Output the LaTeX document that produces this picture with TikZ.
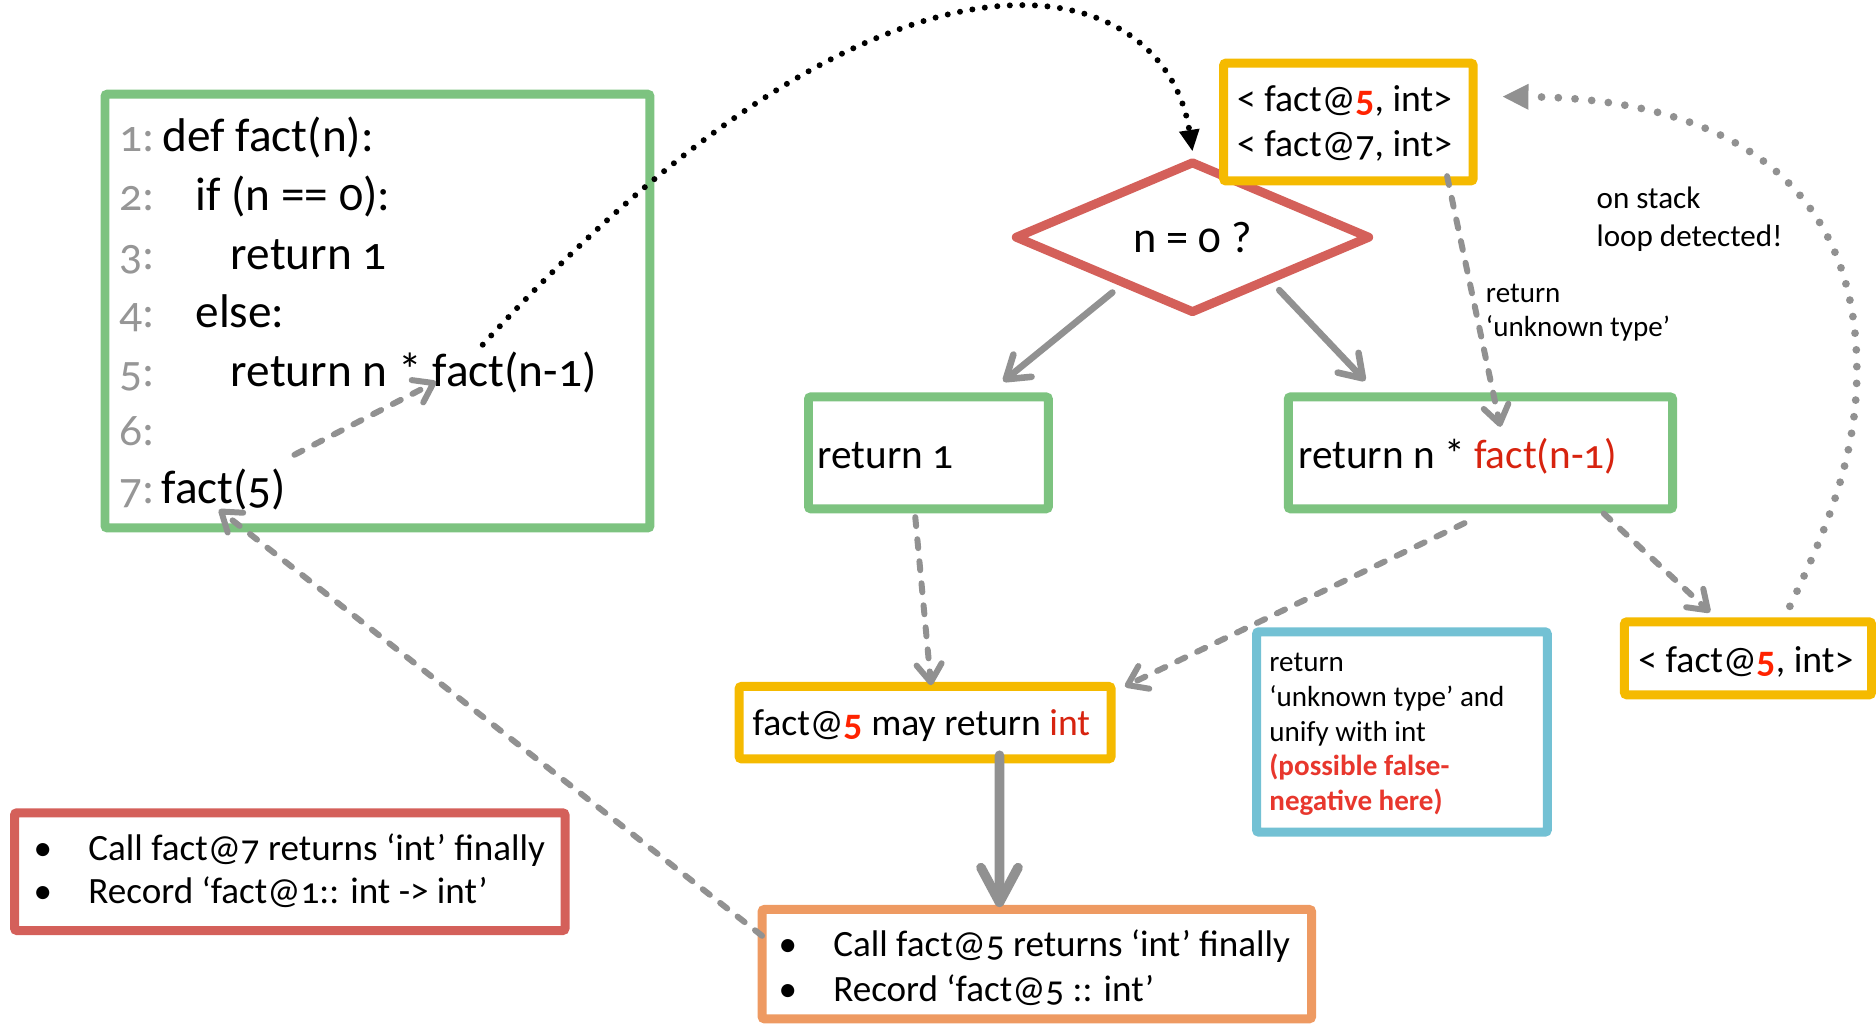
\documentclass[tikz,border=0pt]{standalone}
\usepackage{fontspec}
\setmainfont{Carlito}[Numbers=OldStyle]
\usetikzlibrary{arrows.meta,shapes.geometric,calc}

\definecolor{boxgreen}{RGB}{125,195,128}
\definecolor{boxred}{RGB}{212,96,90}
\definecolor{boxyellow}{RGB}{245,186,0}
\definecolor{boxblue}{RGB}{115,193,212}
\definecolor{boxorange}{RGB}{238,154,98}
\definecolor{linegray}{RGB}{145,145,145}
\definecolor{numgray}{RGB}{150,150,150}
\definecolor{hotred}{RGB}{255,35,0}
\definecolor{textred}{RGB}{215,35,15}
\definecolor{notered}{RGB}{232,55,45}

\tikzset{
  frame/.style={draw, line width=7.5pt, rounded corners=2pt, inner sep=0pt, outer sep=0pt, fill=white},
  txt/.style={inner sep=0pt, outer sep=0pt, anchor=base west},
  codefont/.style={font=\fontsize{39.5}{40}\selectfont},
  numfont/.style={font=\fontsize{38}{40}\selectfont, text=numgray},
  boxfont/.style={font=\fontsize{34.5}{36}\selectfont},
  midfont/.style={font=\fontsize{31.5}{33}\selectfont},
  listfont/.style={font=\fontsize{31}{33}\selectfont},
  smallfont/.style={font=\fontsize{24.3}{26}\selectfont},
  dashedge/.style={draw=linegray, line width=5pt, line cap=round,
    dash pattern=on 7.5pt off 11pt,
    -{Straight Barb[length=15pt,width=21pt,round]}},
  solidedge/.style={draw=linegray, line width=5.5pt, line cap=round,
    -{Straight Barb[length=18pt,width=24pt,round]}},
  thickedge/.style={draw=linegray, line width=8pt, line cap=round,
    -{Straight Barb[length=29pt,width=31pt,round]}},
  blackdots/.style={draw=black, line width=5pt, line cap=round,
    dash pattern=on 0pt off 10.5pt,
    -{Triangle[length=18pt,width=16pt]}},
  graydots/.style={draw=linegray, line width=6.5pt, line cap=round,
    dash pattern=on 0pt off 14pt,
    -{Triangle[length=22pt,width=20pt]}},
}

\begin{document}
\begin{tikzpicture}[x=1pt, y=-1pt]
\useasboundingbox (0,0) rectangle (1568,858);

% ---------- source code listing ----------
\node[frame, draw=boxgreen, minimum width=455.5pt, minimum height=362.5pt] (code) at (315.5,260) {};
\node[txt, numfont] (n1) at (100,127) {1:};
\node[txt, numfont] (n2) at (100,176) {2:};
\node[txt, numfont] (n3) at (100,225) {3:};
\node[txt, numfont] (n4) at (100,274) {4:};
\node[txt, numfont] (n5) at (100,323) {5:};
\node[txt, numfont] (n6) at (100,372) {6:};
\node[txt, numfont] (n7) at (100,421) {7:};
\node[txt, codefont] (c1) at (136,127) {def fact(n):};
\node[txt, codefont] (c2) at (163.5,176) {if (n == 0):};
\node[txt, codefont] (c3) at (193,225) {return 1};
\node[txt, codefont] (c4) at (163.5,274) {else:};
\node[txt, codefont] (c5) at (193,323) {return n *};
\node[txt, codefont] (fn) at ($(c5.base east)+(9,0)$) {fact(n-1)};
\node[txt, codefont] (c7) at (135,421) {fact(5)};

% ---------- decision and branches ----------
\node[diamond, draw=boxred, line width=7.5pt, line join=round, fill=white,
      minimum width=294.6pt, minimum height=106pt, inner sep=0pt, outer sep=0pt,
      font=\fontsize{37}{38}\selectfont] (dia) at (996.7,198.3) {n = 0 ?};

\node[frame, draw=boxyellow, minimum width=208.5pt, minimum height=98.5pt] (stk) at (1127,102) {};
\node[txt, midfont] (stk1) at (1034,93) {< fact@\textcolor{hotred}{\bfseries 5}, int>};
\node[txt, midfont] (stk2) at (1034,131) {< fact@7, int>};

\node[txt, font=\fontsize{26}{28}\selectfont] (os1) at (1334.5,174) {on stack};
\node[txt, font=\fontsize{26}{28}\selectfont] (os2) at (1334.5,206) {loop detected!};
\node[txt, smallfont] (ut1) at (1242,253) {return};
\node[txt, smallfont] (ut2) at (1242,281) {‘unknown type’};

\node[frame, draw=boxgreen, minimum width=200.5pt, minimum height=93.5pt] (ret1) at (776,378.5) {};
\node[txt, boxfont] (ret1t) at (683.4,391.5) {return 1};

\node[frame, draw=boxgreen, minimum width=321.2pt, minimum height=93.5pt] (retn) at (1237.35,378.5) {};
\node[txt, boxfont] (retnt) at (1085,391.5) {return n * \textcolor{textred}{fact(n-1)}};

\node[frame, draw=boxyellow, minimum width=310.9pt, minimum height=60.5pt] (may) at (773.2,604) {};
\node[txt, midfont] (mayt) at (629,614.4) {fact@\textcolor{hotred}{\bfseries 5} may return \textcolor{textred}{int}};

\node[frame, draw=boxblue, minimum width=243pt, minimum height=167.5pt] (note) at (1171.75,611.8) {};
\node[txt, smallfont] (note1) at (1061,561.5) {return};
\node[txt, smallfont] (note2) at (1061,590.5) {‘unknown type’ and};
\node[txt, smallfont] (note3) at (1061,619.5) {unify with int};
\node[txt, text=notered, font=\fontsize{24.3}{26}\selectfont\bfseries] (note4) at (1061,648.5) {(possible false-};
\node[txt, text=notered, font=\fontsize{24.3}{26}\selectfont\bfseries] (note5) at (1061,677.5) {negative here)};

\node[frame, draw=boxyellow, minimum width=206.5pt, minimum height=61pt] (sy) at (1461,550.25) {};
\node[txt, midfont] (syt) at (1369.4,562) {< fact@\textcolor{hotred}{\bfseries 5}, int>};

% ---------- summaries ----------
\node[frame, draw=boxred, minimum width=460.1pt, minimum height=98.4pt] (rb) at (242.2,728.55) {};
\node[txt, listfont] (rb1) at (28,719.4) {\makebox[45.9pt][l]{•}Call fact@7 returns ‘int’ finally};
\node[txt, listfont] (rb2) at (28,755.5) {\makebox[45.9pt][l]{•}Record ‘fact@1:: int -> int’};

\node[frame, draw=boxorange, minimum width=459.3pt, minimum height=91.4pt] (or) at (866.6,805.85) {};
\node[txt, listfont] (or1) at (650.8,799.6) {\makebox[45.7pt][l]{•}Call fact@5 returns ‘int’ finally};
\node[txt, listfont] (or2) at (650.8,837.2) {\makebox[45.7pt][l]{•}Record ‘fact@5 :: int’};

% ---------- connectors ----------
\draw[blackdots] ($(fn.north west)+(42,-6)$) .. controls +(348,-380) and +(-22.6,-150) .. ($(dia.north)+(0,-9.5)$);
\draw[dashedge] ($(c7.north east)+(7,-12)$) -- ($(fn.base west)+(3,-4)$);
\draw[dashedge] ($(or.north west)+(0,22)$) -- ($(c7.base west)+(48,5)$);

\draw[solidedge] ($(dia.south)+(-67,-16)$) -- ($(ret1.north)+(62.5,-13)$);
\draw[solidedge] ($(dia.south)+(72.5,-18)$) -- ($(retn.north)+(-96.3,-13.5)$);

\draw[dashedge] ($(stk.south)+(82.5,-4)$) -- ($(retn.north)+(16.7,25)$);
\draw[dashedge] ($(ret1.south)+(-11,7)$) -- ($(may.north)+(5,-1)$);
\draw[dashedge] ($(retn.south)+(-13.3,12)$) -- ($(may.north east)+(11.6,0)$);
\draw[dashedge] ($(retn.south east)+(-57.5,4)$) -- ($(sy.north)+(-31.7,-8)$);

\draw[thickedge] ($(may.south)+(62.2,-3)$) -- ($(or.north)+(-31.2,-2)$);

\draw[graydots] ($(sy.north)+(35,-13)$) .. controls (1528,440) and (1552,380) .. (1552,310)
  .. controls (1552,150) and (1440,82) .. ($(stk.north east)+(24.25,28)$);
\end{tikzpicture}
\end{document}
